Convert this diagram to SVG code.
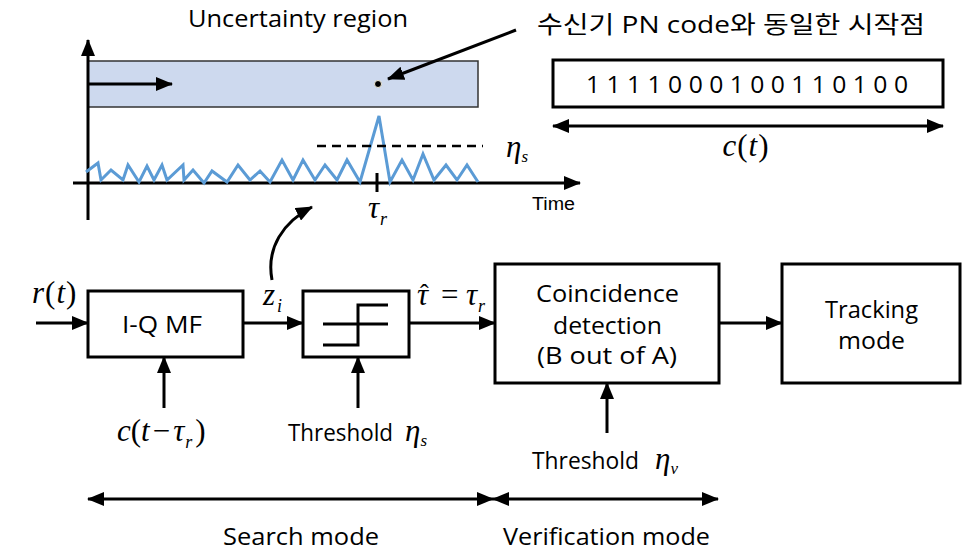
<svg xmlns="http://www.w3.org/2000/svg" width="971" height="558" viewBox="0 0 971 558">
<defs>
<style>
.box{fill:#fff;stroke:#000;stroke-width:3}
.ln{fill:none;stroke:#000;stroke-width:3}
.lbl{font-family:"Open Sans","Noto Sans CJK KR",sans-serif;font-size:24px;fill:#000}
.m{font-family:"Liberation Serif","Times New Roman",serif;font-style:italic;font-size:31px;fill:#000}
.up{font-style:normal}
.sub{font-size:18px}
.noise{fill:none;stroke:#5b9bd5;stroke-width:3;stroke-linejoin:miter}
</style>
<marker id="ah" markerUnits="userSpaceOnUse" markerWidth="17" markerHeight="14" refX="16" refY="7" orient="auto-start-reverse">
<path d="M0,0 L17,7 L0,14 z" fill="#000"/>
</marker>
</defs>
<rect width="971" height="558" fill="#fff"/>

<g id="plot">
<rect x="88" y="61" width="390" height="46" fill="#cdd9ee" stroke="#333" stroke-width="1.5"/>
<line class="ln" x1="88" y1="220" x2="88" y2="40" marker-end="url(#ah)"/>
<line class="ln" x1="73" y1="183" x2="580" y2="183" marker-end="url(#ah)"/>
<line class="ln" x1="88" y1="84" x2="172" y2="84" marker-end="url(#ah)"/>
<polyline class="noise" points="86,172 98,163 101,180 111,170 123,180 128,165 139,182 147,166 154,180 162,165 167,180 183,165 184,180 193,170 204,183 212,171 227,182 238,165 250,180 260,171 270,182 282,160 293,180 303,160 315,180 325,165 337,180 347,160 360,182 379,116 390,182 402,160 413,180 423,154 434,180 446,165 457,180 467,165 478,182"/>
<line class="ln" x1="377" y1="173" x2="377" y2="192"/>
<line x1="317" y1="146" x2="483" y2="146" stroke="#000" stroke-width="2.5" stroke-dasharray="9,6"/>
<circle cx="378" cy="84" r="3.5" fill="#000" stroke="#f4eed8" stroke-width="1"/>
<text class="lbl" x="188" y="27" font-size="25" textLength="220" lengthAdjust="spacingAndGlyphs">Uncertainty region</text>
<text x="532" y="210" font-family="Liberation Sans, Arial, sans-serif" font-size="18" textLength="43" lengthAdjust="spacingAndGlyphs">Time</text>
<text class="m" x="368" y="218" font-size="30">τ<tspan class="sub" dx="1" dy="7">r</tspan></text>
<text class="m" x="506" y="157" font-size="29">η<tspan font-size="17" dy="5">s</tspan></text>
</g>

<g id="pointer">
<line class="ln" x1="516" y1="30" x2="388" y2="79" marker-end="url(#ah)"/>
<text class="lbl" x="537" y="33" font-size="25" textLength="388" lengthAdjust="spacingAndGlyphs">수신기 PN code와 동일한 시작점</text>
</g>

<g id="pn">
<rect class="box" x="553" y="60" width="390" height="47"/>
<text class="lbl" x="586" y="93" font-size="22" textLength="322" lengthAdjust="spacingAndGlyphs">1 1 1 1 0 0 0 1 0 0 1 1 0 1 0 0</text>
<line class="ln" x1="553" y1="126" x2="943" y2="126" marker-start="url(#ah)" marker-end="url(#ah)"/>
<text class="m" x="746" y="156" text-anchor="middle" letter-spacing="1">c<tspan class="up">(</tspan>t<tspan class="up">)</tspan></text>
</g>

<g id="iqmf">
<rect class="box" x="88" y="291" width="155" height="66"/>
<text class="lbl" x="122" y="333" textLength="80" lengthAdjust="spacingAndGlyphs">I-Q MF</text>
</g>

<g id="threshold">
<rect class="box" x="303" y="291" width="106" height="66"/>
<path class="ln" d="M388,305 H358 V345 H323 M323,324 H388"/>
</g>

<g id="coincidence">
<rect class="box" x="495" y="264" width="224" height="119"/>
<text class="lbl" x="536" y="302" textLength="143" lengthAdjust="spacingAndGlyphs">Coincidence</text>
<text class="lbl" x="553" y="334" textLength="109" lengthAdjust="spacingAndGlyphs">detection</text>
<text class="lbl" x="537" y="364" textLength="140" lengthAdjust="spacingAndGlyphs">(B out of A)</text>
</g>

<g id="tracking">
<rect class="box" x="782" y="264" width="178" height="119"/>
<text class="lbl" x="825" y="318" textLength="93" lengthAdjust="spacingAndGlyphs">Tracking</text>
<text class="lbl" x="838" y="349" textLength="67" lengthAdjust="spacingAndGlyphs">mode</text>
</g>

<g id="connectors">
<line class="ln" x1="36" y1="323" x2="88" y2="323" marker-end="url(#ah)"/>
<line class="ln" x1="243" y1="323" x2="303" y2="323" marker-end="url(#ah)"/>
<line class="ln" x1="409" y1="323" x2="495" y2="323" marker-end="url(#ah)"/>
<line class="ln" x1="719" y1="323" x2="782" y2="323" marker-end="url(#ah)"/>
<line class="ln" x1="164" y1="408" x2="164" y2="357" marker-end="url(#ah)"/>
<line class="ln" x1="358" y1="408" x2="358" y2="357" marker-end="url(#ah)"/>
<line class="ln" x1="607" y1="433" x2="607" y2="383" marker-end="url(#ah)"/>
<path class="ln" d="M272,280 C266,248 283,222 312,207" marker-end="url(#ah)"/>
<line class="ln" x1="88" y1="499" x2="493" y2="499" marker-start="url(#ah)" marker-end="url(#ah)"/>
<line class="ln" x1="493" y1="499" x2="718" y2="499" marker-start="url(#ah)" marker-end="url(#ah)"/>
</g>

<g id="labels">
<text class="m" x="32" y="303" letter-spacing="1">r<tspan class="up">(</tspan>t<tspan class="up">)</tspan></text>
<text class="m" x="263" y="305">z<tspan class="sub" dx="2" dy="7">i</tspan></text>
<text class="m" x="417" y="305">τ<tspan class="up" x="420" y="302" font-size="26">ˆ</tspan><tspan class="up" x="441" y="305">=</tspan><tspan x="466">τ</tspan><tspan class="sub" dx="1" dy="7">r</tspan></text>
<text class="m" x="117" y="441">c<tspan class="up">(</tspan>t<tspan class="up" dx="3">−</tspan><tspan dx="3">τ</tspan><tspan class="sub" dx="1" dy="7">r</tspan><tspan class="up" dx="3" dy="-7">)</tspan></text>
<text class="lbl" x="288" y="441" textLength="105" lengthAdjust="spacingAndGlyphs">Threshold</text>
<text class="m" x="405" y="441">η<tspan font-size="17" dy="5">s</tspan></text>
<text class="lbl" x="532" y="469" textLength="107" lengthAdjust="spacingAndGlyphs">Threshold</text>
<text class="m" x="655" y="469">η<tspan font-size="17" dy="5">v</tspan></text>
<text class="lbl" x="223" y="545" textLength="156" lengthAdjust="spacingAndGlyphs">Search mode</text>
<text class="lbl" x="503" y="545" textLength="207" lengthAdjust="spacingAndGlyphs">Verification mode</text>
</g>
</svg>
